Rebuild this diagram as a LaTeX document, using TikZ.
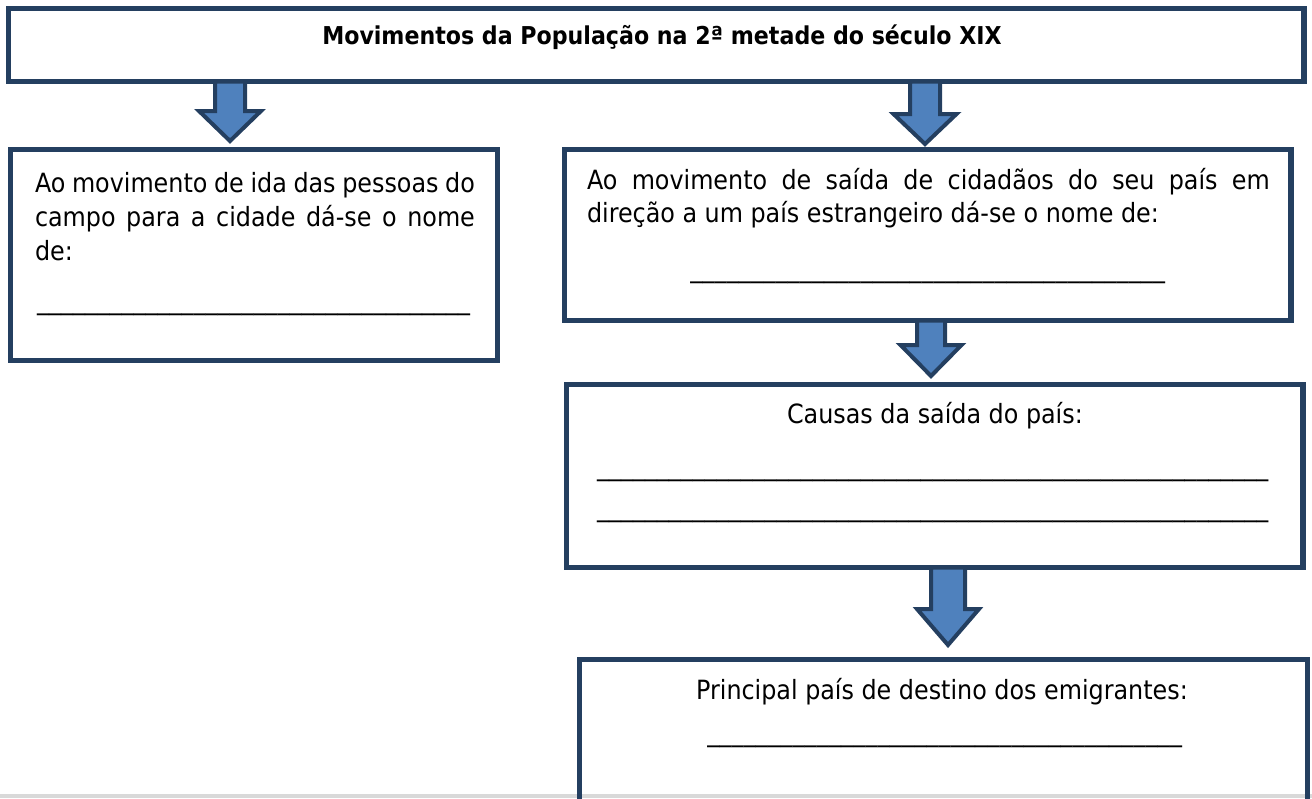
\documentclass[tikz,border=0pt]{standalone}
\usepackage{fontspec}
\setmainfont{DejaVu Sans Condensed}
\usetikzlibrary{calc}
\definecolor{boxline}{HTML}{243F60}
\definecolor{arrowfill}{HTML}{4F81BD}
\definecolor{bottomgray}{HTML}{D9D9D9}
\newcommand\blockarr[7]{%
  \coordinate (tmpx) at (#3,0);
  \path (#1.south -| tmpx) coordinate (at) (#2.north -| tmpx) coordinate (ab);
  \draw[blockarrow] ($(at)+(-#4,0)$) -- ($(ab)+(-#4,-#6-#7)$) -- ($(ab)+(-#5,-#6-#7)$)
    -- ($(ab)+(0,-#6)$) -- ($(ab)+(#5,-#6-#7)$) -- ($(ab)+(#4,-#6-#7)$) -- ($(at)+(#4,0)$) -- cycle;}
\newcommand\blankline[1]{\hbox to #1{\xleaders\hbox{\_}\hfill}}
\begin{document}
\begin{tikzpicture}[x=1pt,y=-1pt,
  frame/.style={draw=boxline,line width=5.5pt,rectangle,inner sep=0pt,outer sep=0pt},
  bodytext/.style={font=\fontsize{26.5}{34}\selectfont,inner sep=0pt,outer sep=0pt,anchor=base west},
  centertext/.style={font=\fontsize{26.5}{34}\selectfont,inner sep=0pt,outer sep=0pt,anchor=base},
  titletext/.style={font=\fontsize{24.6}{30}\selectfont\bfseries,inner sep=0pt,anchor=base},
  blockarrow/.style={draw=boxline,fill=arrowfill,line width=4pt,line join=miter}]
\path[use as bounding box] (0,0) rectangle (1312,798);
\clip (0,0) rectangle (1312,798);
\fill[bottomgray] (0,794) rectangle (1312,798);
% boxes
\node[frame,minimum width=1295.5pt,minimum height=73pt] (b1) at (656.25,45) {};
\node[frame,minimum width=487pt,minimum height=211pt] (b2) at (254,255) {};
\node[frame,minimum width=726.5pt,minimum height=171pt] (b3) at (927.75,235) {};
\node[frame,minimum width=736.5pt,minimum height=183pt] (b4) at (934.75,476) {};
\node[frame,minimum width=728pt,minimum height=170.5pt] (b5) at (943.5,744.75) {};
% arrows
\blockarr{b1}{b2}{230}{15}{31}{8.5}{30}
\blockarr{b1}{b3}{925}{15}{31.5}{5.5}{30}
\blockarr{b3}{b4}{931}{14}{30.5}{8.5}{31}
\blockarr{b4}{b5}{948}{17}{31}{14.5}{36}
% texts
\node[titletext] (t1) at (662,44) {Movimentos da População na 2ª metade do século XIX};
\node[bodytext] (t2a) at (35,192) {\makebox[440pt][s]{Ao movimento de ida das pessoas do}};
\node[bodytext] (t2b) at (35,226) {\makebox[440pt][s]{campo para a cidade dá-se o nome}};
\node[bodytext] (t2c) at (35,260) {de:};
\node[bodytext] (t2d) at (37,309.6) {\blankline{433pt}};
\node[bodytext] (t3a) at (587,189) {\makebox[683pt][s]{Ao movimento de saída de cidadãos do seu país em}};
\node[bodytext] (t3b) at (587,222) {direção a um país estrangeiro dá-se o nome de:};
\node[bodytext] (t3c) at (690,277.6) {\blankline{475pt}};
\node[centertext] (t4a) at (935,423) {Causas da saída do país:};
\node[bodytext] (t4b) at (597,475.6) {\blankline{671pt}};
\node[bodytext] (t4c) at (597,516.6) {\blankline{671pt}};
\node[centertext] (t5a) at (942,699) {Principal país de destino dos emigrantes:};
\node[bodytext] (t5b) at (707,741.6) {\blankline{475pt}};
\end{tikzpicture}
\end{document}
